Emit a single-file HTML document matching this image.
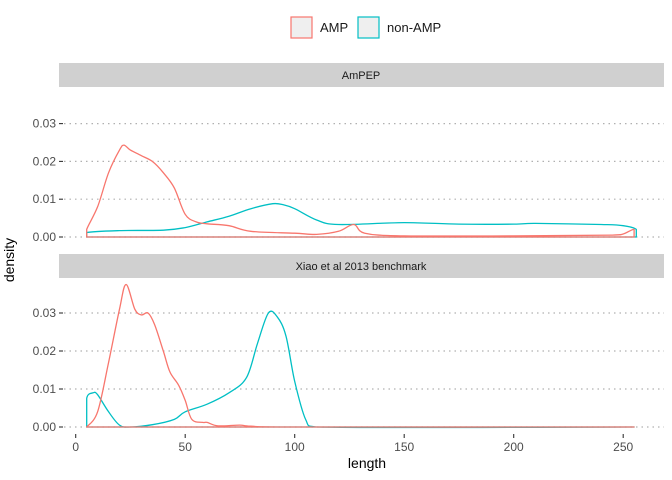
<!DOCTYPE html>
<html><head><meta charset="utf-8"><style>
body{margin:0;background:#fff;}
svg{display:block;font-family:"Liberation Sans",Arial,sans-serif;}
</style></head><body>
<svg id="c" width="672" height="480" xmlns="http://www.w3.org/2000/svg">
<g>
<g><rect x="291" y="17" width="21" height="21" fill="#efefef" stroke="#F8766D" stroke-width="1.2"/><text x="320" y="32" font-size="13" fill="#1a1a1a">AMP</text></g>
<g><rect x="358" y="17" width="21" height="21" fill="#efefef" stroke="#00BFC4" stroke-width="1.2"/><text x="387" y="32" font-size="13" fill="#1a1a1a">non-AMP</text></g>
</g>
<rect x="59" y="63" width="605" height="24" fill="#d0d0d0"/>
<text x="361" y="79" font-size="11" text-anchor="middle" fill="#1a1a1a">AmPEP</text>
<rect x="59" y="254" width="605" height="24" fill="#d0d0d0"/>
<text x="361" y="270" font-size="11" text-anchor="middle" fill="#1a1a1a">Xiao et al 2013 benchmark</text>
<g id="p1"></g>
<g id="p2"></g>
<g id="xa"></g>
<text x="14" y="260" font-size="14" text-anchor="middle" transform="rotate(-90 14 260)" fill="#000">density</text>
<text x="367" y="468" font-size="14" text-anchor="middle" fill="#000">length</text>
</svg>
<script>
const xTicks=[0,50,100,150,200,250];
const yTicks=[0,0.01,0.02,0.03];
const yTickLabels=["0.00","0.01","0.02","0.03"];
const ampepAmpX=[5,5,10,15,20,22,25,30,35,40,45,50,55,60,70,80,100,110,120,127,132,150,200,245,250,255,255];
const ampepAmpY=[0,0.002,0.008,0.017,0.023,0.0243,0.023,0.0215,0.02,0.017,0.013,0.006,0.004,0.0035,0.003,0.0015,0.001,0.0007,0.0015,0.0033,0.001,0.0003,0.0003,0.0005,0.0008,0.002,0];
const ampepNonX=[5,5,20,40,50,60,70,80,90,95,100,110,120,150,175,200,210,240,250,256,256];
const ampepNonY=[0,0.0012,0.0017,0.0018,0.0025,0.004,0.0055,0.0075,0.0088,0.0085,0.0075,0.0045,0.0033,0.0038,0.0034,0.0034,0.0036,0.0033,0.003,0.002,0];
const xiaoAmpX=[5,10,15,20,23,27,30,33,36,40,43,47,50,53,58,60,65,75,80,100,255];
const xiaoAmpY=[0,0.004,0.017,0.031,0.0375,0.031,0.0295,0.03,0.027,0.02,0.0145,0.011,0.007,0.002,0.0012,0.0012,0.0003,0.0005,0.0002,0,0];
const xiaoNonX=[5,5,8,10,15,20,25,35,45,50,60,70,78,83,88,92,96,100,105,110,255];
const xiaoNonY=[0,0.0075,0.009,0.0085,0.004,0.0005,0,0.0006,0.002,0.004,0.006,0.009,0.013,0.022,0.03,0.029,0.024,0.012,0.002,0,0];
const NS="http://www.w3.org/2000/svg";
const xs=v=>75.7+v*2.19;
function mk(t,a,p){const e=document.createElementNS(NS,t);for(const k in a)e.setAttribute(k,a[k]);p.appendChild(e);return e;}
function smooth(P){
  let d='M'+P[0][0].toFixed(1)+','+P[0][1].toFixed(1);
  for(let i=0;i<P.length-1;i++){
    const p0=P[Math.max(0,i-1)],p1=P[i],p2=P[i+1],p3=P[Math.min(P.length-1,i+2)];
    const c1=[p1[0]+(p2[0]-p0[0])/6,p1[1]+(p2[1]-p0[1])/6];
    const c2=[p2[0]-(p3[0]-p1[0])/6,p2[1]-(p3[1]-p1[1])/6];
    if(p1[0]===p2[0]){d+='L'+p2[0].toFixed(1)+','+p2[1].toFixed(1);continue;}
    c1[0]=Math.min(Math.max(c1[0],p1[0]),p2[0]);c2[0]=Math.min(Math.max(c2[0],p1[0]),p2[0]);
    d+='C'+c1.map(v=>v.toFixed(1)).join(',')+' '+c2.map(v=>v.toFixed(1)).join(',')+' '+p2[0].toFixed(1)+','+p2[1].toFixed(1);
  }
  return d+'Z';
}
function panel(g,y0,ppu,series){
  const ys=v=>y0-v*ppu*100;
  yTicks.forEach((t,i)=>{
    const gl=mk('line',{x1:64,x2:664,y1:ys(t),y2:ys(t),stroke:'#b0b0b0','stroke-dasharray':'1.5,4','stroke-width':1.2},g);
    
    
    const tk=mk('line',{x1:59,x2:63,y1:ys(t),y2:ys(t),stroke:'#333','stroke-width':1.1},g);
    
    
    const tx=mk('text',{x:56,y:ys(t)+4,'font-size':12,'text-anchor':'end',fill:'#4d4d4d'},g);
    tx.textContent=yTickLabels[i];
    
    
  });
  series.forEach(s=>{
    const P=s.x.map((v,i)=>[xs(v),ys(s.y[i])]);
    const p=mk('path',{d:smooth(P),fill:'none',stroke:s.c,'stroke-width':1.3,'stroke-linejoin':'round'},g);
    
    
  });
}
panel(document.getElementById('p1'),237,37.8,[{x:ampepNonX,y:ampepNonY,c:'#00BFC4',n:'density-ampep-non-amp'},{x:ampepAmpX,y:ampepAmpY,c:'#F8766D',n:'density-ampep-amp'}]);
panel(document.getElementById('p2'),427,38,[{x:xiaoNonX,y:xiaoNonY,c:'#00BFC4',n:'density-xiao-non-amp'},{x:xiaoAmpX,y:xiaoAmpY,c:'#F8766D',n:'density-xiao-amp'}]);
const xa=document.getElementById('xa');
xTicks.forEach(t=>{
  const tk=mk('line',{x1:xs(t),x2:xs(t),y1:434,y2:438,stroke:'#333','stroke-width':1.1},xa);
  
  
  const tx=mk('text',{x:xs(t),y:451,'font-size':12,'text-anchor':'middle',fill:'#4d4d4d'},xa);
  tx.textContent=t;
  
  
});
</script>
</body></html>
